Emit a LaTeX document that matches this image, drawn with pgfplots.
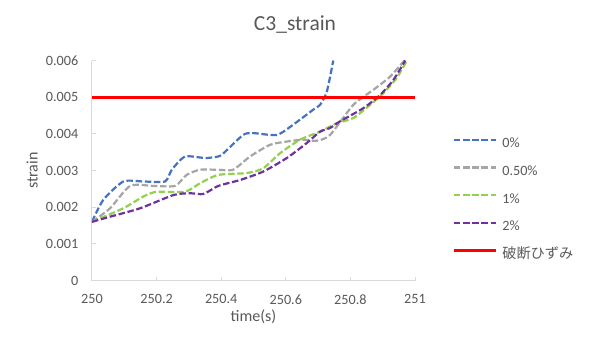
\documentclass[border=0pt]{standalone}
\usepackage{pgfplots}
\pgfplotsset{compat=1.18}
\usepackage{fontspec}
\setmainfont{Carlito}
\newfontfamily\jp{Noto Sans CJK JP}
\definecolor{cblue}{HTML}{4472C4}
\definecolor{cgray}{HTML}{A5A5A5}
\definecolor{cgreen}{HTML}{92D050}
\definecolor{cpurple}{HTML}{7030A0}
\definecolor{ctext}{HTML}{595959}
\definecolor{caxis}{HTML}{D9D9D9}
\begin{document}
\begin{tikzpicture}
\fill[white] (0,0) rectangle (590pt,354pt);
\begin{axis}[
  at={(92pt,73.5pt)}, anchor=south west,
  scale only axis, width=323pt, height=220pt,
  xmin=250, xmax=251, ymin=0, ymax=0.006,
  scaled y ticks=false, scaled x ticks=false,
  axis x line=bottom, axis y line=left,
  axis line style={-, caxis, line width=1pt},
  tick align=inside, major tick length=4pt,
  tick style={caxis, line width=1pt},
  xtick={250,250.2,250.4,250.6,250.8,251},
  xticklabels={250,250.2,250.4,250.6,250.8,251},
  ytick={0,0.001,0.002,0.003,0.004,0.005,0.006},
  yticklabels={0,0.001,0.002,0.003,0.004,0.005,0.006},
  tick label style={font=\fontsize{14.2}{16}\selectfont, text=ctext},
  yticklabel style={anchor=east, inner sep=0pt, xshift=-13.5pt},
  xticklabel style={anchor=north, inner sep=0pt, yshift=-14pt},
  xlabel={time(s)}, ylabel={strain},
  label style={font=\fontsize{16}{18}\selectfont, text=ctext},
  xlabel style={at={(axis description cs:0.5,-0.186)}, anchor=base},
  ylabel style={at={(axis description cs:-0.185,0.5)}, anchor=center},
  title={C3\_strain},
  title style={at={(axis description cs:0.6285,1.111)}, anchor=base, font=\fontsize{21.5}{24}\selectfont, text=ctext},
  legend cell align=left,
  legend image code/.code={\draw[#1] (0pt,4.5pt) -- (42pt,4.5pt);},
  legend style={at={(1.1155,0.6486)}, anchor=north west, draw=none, fill=none,
    inner sep=0pt, outer sep=0pt, row sep=14.7pt, column sep=5pt,
    font=\fontsize{14.2}{16}\selectfont, text=ctext,
    nodes={inner sep=0pt, text height=10pt, text depth=3pt}},
  every axis plot/.append style={line width=2.2pt, dash pattern=on 6.5pt off 2.7pt, smooth, tension=0.4},
]
\addplot[cblue] coordinates {
(250,0.00160) (250.035,0.0022) (250.097,0.00270) (250.16,0.00270) (250.226,0.00270)
(250.247,0.00302) (250.288,0.00338) (250.35,0.00334) (250.39,0.00338) (250.407,0.00347)
(250.468,0.00397) (250.499,0.00402) (250.572,0.00397) (250.623,0.00425) (250.685,0.00466)
(250.706,0.00479) (250.727,0.00515) (250.747,0.00600)};
\addlegendentry{0\%}
\addplot[cgray] coordinates {
(250,0.00160) (250.056,0.00197) (250.118,0.00258) (250.19,0.00258) (250.257,0.00258)
(250.293,0.00288) (250.334,0.00302) (250.391,0.00302) (250.437,0.00302) (250.489,0.00338)
(250.551,0.00370) (250.603,0.00379) (250.654,0.00384) (250.696,0.00381) (250.737,0.00397)
(250.809,0.00479) (250.871,0.00520) (250.923,0.00556) (250.967,0.00600)};
\addlegendentry{0.50\%}
\addplot[cgreen] coordinates {
(250,0.00160) (250.097,0.00197) (250.159,0.00229) (250.2,0.00242) (250.288,0.00242)
(250.334,0.00265) (250.391,0.00288) (250.479,0.00293) (250.53,0.00306) (250.582,0.00347)
(250.644,0.00384) (250.706,0.00406) (250.758,0.00429) (250.809,0.00443) (250.861,0.00479)
(250.902,0.00511) (250.943,0.00552) (250.975,0.00600)};
\addlegendentry{1\%}
\addplot[cpurple] coordinates {
(250,0.00160) (250.056,0.00174) (250.149,0.00197) (250.252,0.00233) (250.303,0.00238)
(250.345,0.00236) (250.391,0.00258) (250.458,0.00274) (250.53,0.00297) (250.603,0.00334)
(250.665,0.00375) (250.706,0.00406) (250.737,0.00416) (250.768,0.00434) (250.84,0.00470)
(250.892,0.00506) (250.933,0.00547) (250.97,0.00600)};
\addlegendentry{2\%}
\addplot[red, line width=3pt, solid, sharp plot] coordinates {(250,0.005) (251,0.005)};
\addlegendentry{\jp 破断ひずみ}
\end{axis}
\pgfresetboundingbox
\useasboundingbox (0,0) rectangle (590pt,354pt);
\end{tikzpicture}
\end{document}
